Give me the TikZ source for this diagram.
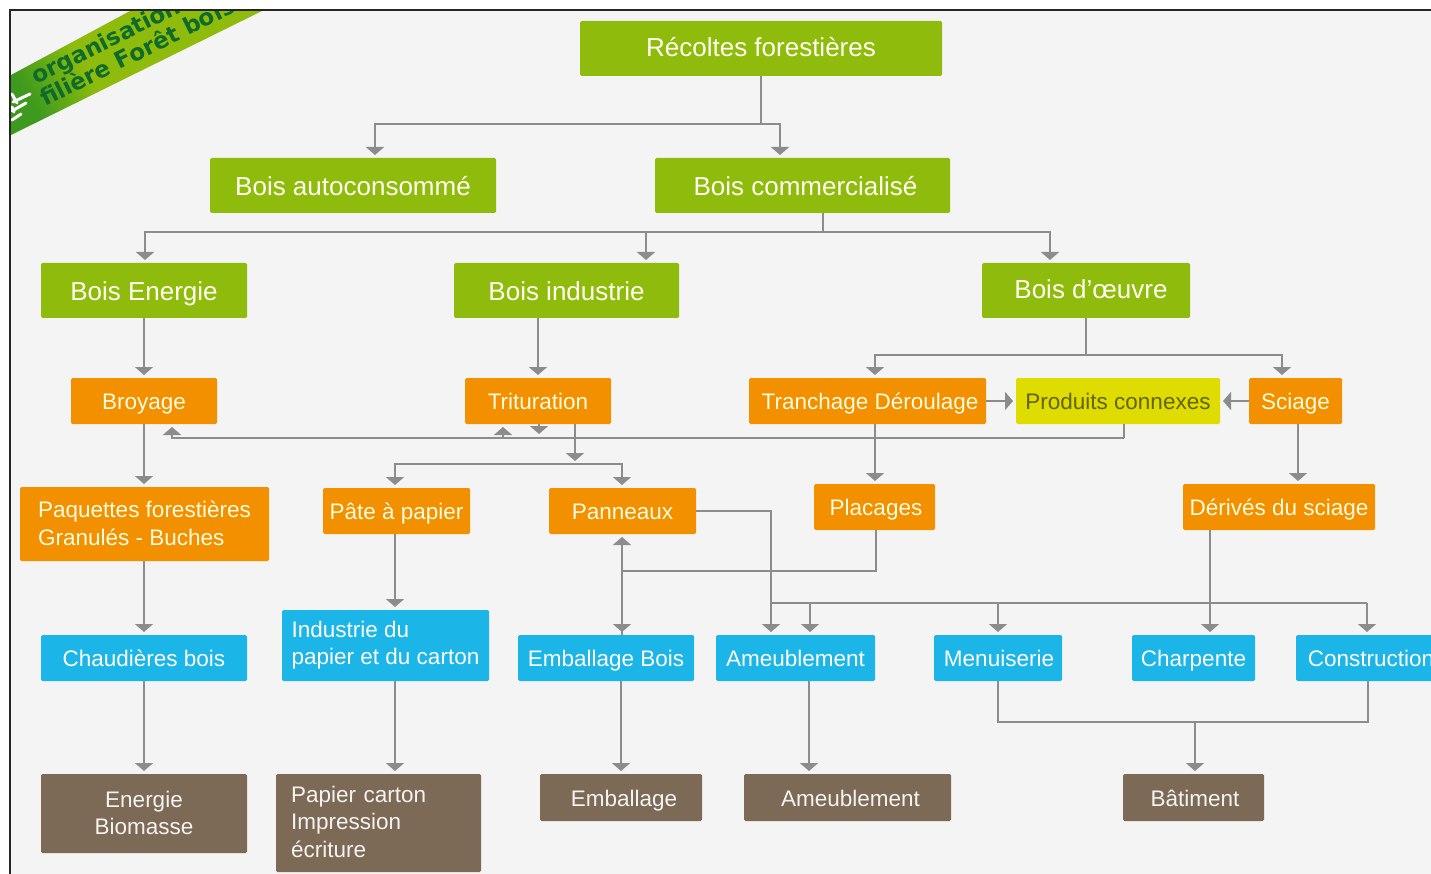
\documentclass[tikz,border=0pt]{standalone}
\usepackage{fontspec}
\setmainfont{Liberation Sans}
\newfontfamily\banfont{DejaVu Sans}
\usetikzlibrary{arrows.meta}
\definecolor{bgc}{HTML}{F4F4F4}
\definecolor{grn}{HTML}{8FBC0C}
\definecolor{orn}{HTML}{F39000}
\definecolor{lim}{HTML}{DEDC00}
\definecolor{cyn}{HTML}{1BB5E8}
\definecolor{brn}{HTML}{7C6A56}
\definecolor{lin}{HTML}{8C8C8C}
\definecolor{dgr}{HTML}{0F6B2A}
\definecolor{dkg}{HTML}{3E9A1E}
\pgfdeclarehorizontalshading{banshade}{100bp}{color(0bp)=(dkg); color(24bp)=(dkg); color(40bp)=(grn); color(100bp)=(grn)}
\tikzset{
  boxb/.style={rounded corners=1.5pt,inner sep=0pt,outer sep=0pt,align=center},
  gbox/.style={boxb,fill=grn,text=white!95!yellow,font=\fontsize{26}{30}\selectfont},
  obox/.style={boxb,fill=orn,text=white!88!yellow,font=\fontsize{22.5}{27.5}\selectfont},
  lbox/.style={boxb,fill=lim,text=black!55!lim,font=\fontsize{22.5}{27.5}\selectfont},
  cbox/.style={boxb,fill=cyn,text=white,font=\fontsize{22.5}{27.5}\selectfont},
  bbox/.style={boxb,fill=brn,text=white!92!brn,font=\fontsize{22.5}{27.5}\selectfont},
  bant/.style={rotate=26.5,anchor=base west,text=dgr,font=\banfont\bfseries\fontsize{23}{27}\selectfont,inner sep=0pt},
  conn/.style={draw=lin,line width=2pt},
  arr/.style={conn,-{Triangle[length=8pt,width=18pt]},shorten >=3pt},
  leaf/.style={white,line width=3pt,line cap=round},
}
\newcommand{\balt}{\rule{0pt}{1.08em}}
\newcommand{\balb}{\rule[-.32em]{0pt}{.32em}}
\newcommand{\bx}[7]{\node[#6,minimum width={(#4-#2)*1pt},minimum height={(#5-#3)*1pt}] (#1) at ({(#2+#4)/2},{(#3+#5)/2}) {\balt #7\balb};}
\begin{document}
\begin{tikzpicture}[x=1pt,y=-1pt]
\useasboundingbox (0,0) rectangle (1431,874);
\fill[white] (0,0) rectangle (1431,874);
\fill[bgc] (10,10) rectangle (1431,874);
\begin{scope}
\clip (11,11) rectangle (1431,874);
% banner
\shade[shading=banshade,shading angle=30]
  (11,75) -- (130,11) -- (262,11) -- (11,135) -- cycle;
\node[bant] (bt1) at (36,85) {organisation};
\node[bant] (bt2) at (45,107) {filière Forêt bois};
\draw[leaf] (12,120) -- (21,114);
\draw[leaf] (12,111) -- (26,103);
\draw[leaf] (13,102) -- (30,94);
\draw[leaf] (12,94) -- (17,103);
\draw[leaf] (12,107) -- (14,112);
% boxes
\bx{rec}{580}{21}{942}{76}{gbox}{\raisebox{1.5pt}{Récoltes forestières}}
\bx{auto}{210}{158}{496}{213}{gbox}{Bois autoconsommé}
\bx{comm}{655}{158}{950}{213}{gbox}{\hspace*{6pt}Bois commercialisé}
\bx{ener}{41}{263}{247}{318}{gbox}{Bois Energie}
\bx{indu}{454}{263}{679}{318}{gbox}{Bois industrie}
\bx{oeuv}{982}{263}{1190}{318}{gbox}{\hspace*{10pt}\raisebox{1.5pt}{Bois d’œuvre}}
\bx{broy}{71}{378}{217}{424}{obox}{Broyage}
\bx{trit}{465}{378}{611}{424}{obox}{Trituration}
\bx{tran}{749}{378}{986}{424}{obox}{\hspace*{5pt}Tranchage Déroulage}
\bx{prod}{1016}{378}{1220}{424}{lbox}{Produits connexes}
\bx{scia}{1249}{378}{1342}{424}{obox}{Sciage}
\bx{paqu}{20}{487}{269}{561}{obox,align=left}{Paquettes forestières\\Granulés - Buches\rule[-.4em]{0pt}{0pt}}
\bx{pate}{323}{488}{470}{534}{obox}{Pâte à papier}
\bx{pann}{549}{488}{696}{534}{obox}{Panneaux}
\bx{plac}{814}{484}{935}{530}{obox}{\hspace*{3pt}Placages}
\bx{deri}{1183}{484}{1375}{530}{obox}{Dérivés du sciage}
\bx{chau}{41}{635}{247}{681}{cbox}{Chaudières bois}
\bx{indp}{282}{610}{489}{681}{cbox,align=left}{Industrie du\\papier et du carton\rule[-.6em]{0pt}{0pt}}
\bx{embb}{518}{635}{694}{681}{cbox}{Emballage Bois}
\bx{ameb}{716}{635}{875}{681}{cbox}{Ameublement}
\bx{menu}{934}{635}{1062}{681}{cbox}{\hspace*{2pt}Menuiserie}
\bx{char}{1132}{635}{1255}{681}{cbox}{Charpente}
\bx{cons}{1296}{635}{1446}{681}{cbox}{Construction}
\bx{enbi}{41}{774}{247}{853}{bbox}{Energie\\Biomasse\rule[-.4em]{0pt}{0pt}}
\bx{papi}{276}{774}{481}{872}{bbox,align=left,text width=175pt}{Papier carton\\Impression\\écriture\rule[-.5em]{0pt}{0pt}}
\bx{emba}{540}{774}{702}{821}{bbox}{\hspace*{6pt}Emballage}
\bx{amea}{744}{774}{951}{821}{bbox}{\hspace*{6pt}Ameublement}
\bx{bati}{1123}{774}{1264}{821}{bbox}{\hspace*{3pt}Bâtiment}
% junctions
\coordinate (j1) at (761,124);
\coordinate (j2) at (823,232);
\coordinate (j3) at (1086,355);
\coordinate (j4) at (1124,438);
\coordinate (j5) at (575,464);
\coordinate (j6) at (771,603);
\coordinate (j7) at (622,571);
\coordinate (j8) at (1195,722);
% connectors
\draw[conn] (761,0 |- rec.south) -- (j1);
\draw[arr] (j1) -| (375,0 |- auto.north);
\draw[arr] (j1) -| (780,0 |- comm.north);
\draw[conn] (j2 |- comm.south) -- (j2);
\draw[arr] (j2) -| (145,0 |- ener.north);
\draw[arr] (j2) -| (646,0 |- indu.north);
\draw[arr] (j2) -| (1050,0 |- oeuv.north);
\draw[arr] (144,0 |- ener.south) -- (144,0 |- broy.north);
\draw[arr] (538,0 |- indu.south) -- (538,0 |- trit.north);
\draw[conn] (j3 |- oeuv.south) -- (j3);
\draw[arr] (j3) -| (875,0 |- tran.north);
\draw[arr] (j3) -| (1282,0 |- scia.north);
\draw[arr] (tran.east) -- (prod.west);
\draw[arr] (scia.west) -- (prod.east);
\draw[conn] (j4 |- prod.south) -- (j4);
\draw[arr] (j4) -| (172,0 |- broy.south);
\draw[arr] (503,438) -- (503,0 |- trit.south);
\draw[arr] (539,0 |- trit.south) -- (539,437);
\draw[arr] (575,0 |- trit.south) -- (j5);
\draw[arr] (j5) -| (395,0 |- pate.north);
\draw[arr] (j5) -| (622,0 |- pann.north);
\draw[arr] (144,0 |- broy.south) -- (144,0 |- paqu.north);
\draw[arr] (875,0 |- tran.south) -- (875,0 |- plac.north);
\draw[arr] (1298,0 |- scia.south) -- (1298,0 |- deri.north);
\draw[arr] (144,0 |- paqu.south) -- (144,0 |- chau.north);
\draw[arr] (395,0 |- pate.south) -- (395,0 |- indp.north);
\draw[arr] (pann.east) -| (771,0 |- ameb.north);
\draw[conn] (876,0 |- plac.south) |- (j7);
\draw[arr] (622,0 |- embb.north) -- (622,0 |- pann.south);
\draw[arr] (j7) -- (622,0 |- embb.north);
\draw[conn] (j6) -- (1367,603);
\draw[arr] (810,603) -- (810,0 |- ameb.north);
\draw[arr] (998,603) -- (998,0 |- menu.north);
\draw[arr] (1367,603) -- (1367,0 |- cons.north);
\draw[arr] (1210,0 |- deri.south) -- (1210,0 |- char.north);
\draw[arr] (144,0 |- chau.south) -- (144,0 |- enbi.north);
\draw[arr] (395,0 |- indp.south) -- (395,0 |- papi.north);
\draw[arr] (621,0 |- embb.south) -- (621,0 |- emba.north);
\draw[arr] (809,0 |- ameb.south) -- (809,0 |- amea.north);
\draw[conn] (998,0 |- menu.south) |- (j8) -| (1368,0 |- cons.south);
\draw[arr] (j8) -- (j8 |- bati.north);
\end{scope}
\draw[black!85,line width=2pt] (10,874) -- (10,10) -- (1431,10);
\end{tikzpicture}
\end{document}
